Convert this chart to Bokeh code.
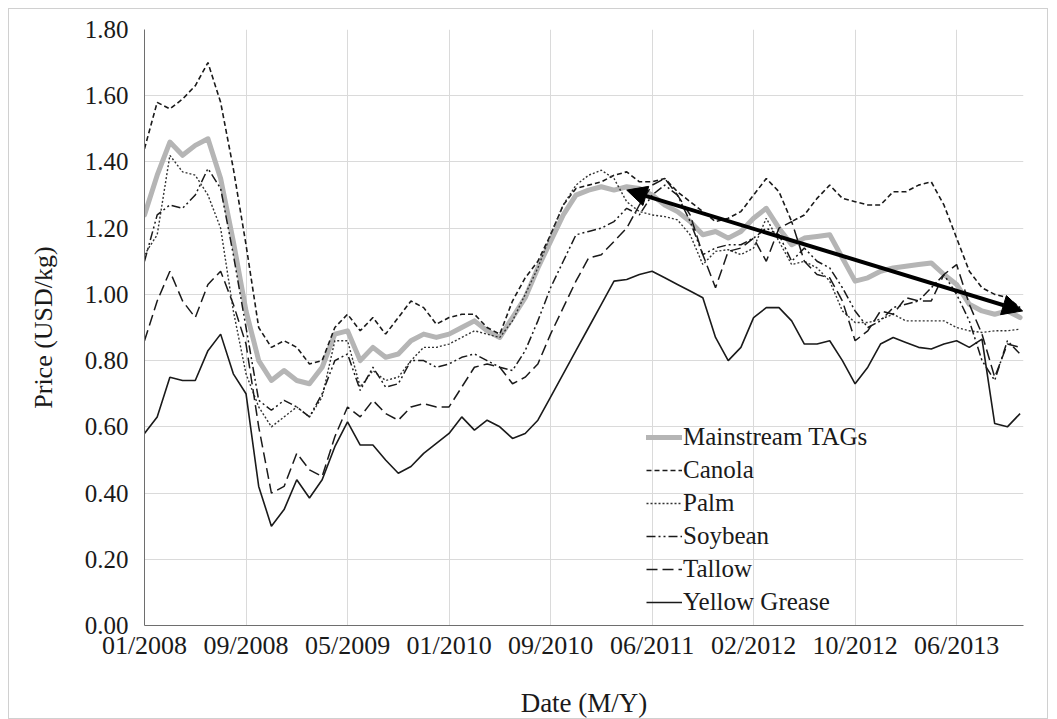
from bokeh.plotting import figure
from bokeh.models import (FixedTicker, Legend, LegendItem, Arrow, NormalHead,
                          Range1d, NumeralTickFormatter)
from bokeh.embed import file_html
from bokeh.resources import INLINE

# ---------------- data ----------------
tick_positions = [0, 8, 16, 24, 32, 40, 48, 56, 64]
tick_labels = ["01/2008", "09/2008", "05/2009", "01/2010", "09/2010",
               "06/2011", "02/2012", "10/2012", "06/2013"]
y_ticks = [0.0, 0.2, 0.4, 0.6, 0.8, 1.0, 1.2, 1.4, 1.6, 1.8]

month_index = list(range(70))

mainstream_tags = [1.24, 1.36, 1.46, 1.42, 1.45, 1.47, 1.35, 1.16, 0.95, 0.80,
                   0.74, 0.77, 0.74, 0.73, 0.78, 0.88, 0.89, 0.80, 0.84, 0.81,
                   0.82, 0.86, 0.88, 0.87, 0.88, 0.90, 0.92, 0.89, 0.87, 0.93,
                   0.99, 1.08, 1.16, 1.24, 1.30, 1.315, 1.325, 1.315, 1.325, 1.32,
                   1.30, 1.27, 1.25, 1.22, 1.18, 1.19, 1.17, 1.19, 1.23, 1.26,
                   1.20, 1.15, 1.17, 1.175, 1.18, 1.11, 1.04, 1.05, 1.07, 1.08,
                   1.085, 1.09, 1.095, 1.06, 1.03, 0.97, 0.95, 0.94, 0.95, 0.93]

canola = [1.44, 1.58, 1.56, 1.59, 1.63, 1.70, 1.58, 1.38, 1.15, 0.90,
          0.84, 0.86, 0.84, 0.79, 0.80, 0.90, 0.94, 0.89, 0.93, 0.88,
          0.93, 0.98, 0.96, 0.91, 0.93, 0.94, 0.94, 0.90, 0.88, 0.98,
          1.05, 1.10, 1.18, 1.27, 1.32, 1.33, 1.34, 1.36, 1.37, 1.34,
          1.34, 1.35, 1.31, 1.28, 1.25, 1.22, 1.23, 1.25, 1.30, 1.35,
          1.31, 1.22, 1.24, 1.29, 1.33, 1.29, 1.28, 1.27, 1.27, 1.31,
          1.31, 1.33, 1.34, 1.27, 1.17, 1.07, 1.02, 1.00, 0.99, 0.96]

palm = [1.12, 1.18, 1.42, 1.37, 1.36, 1.30, 1.20, 0.95, 0.76, 0.66,
        0.60, 0.63, 0.66, 0.63, 0.69, 0.86, 0.86, 0.72, 0.77, 0.74,
        0.75, 0.80, 0.84, 0.84, 0.85, 0.87, 0.89, 0.88, 0.87, 0.92,
        1.00, 1.08, 1.18, 1.27, 1.33, 1.36, 1.375, 1.35, 1.28, 1.25,
        1.24, 1.235, 1.225, 1.18, 1.09, 1.13, 1.135, 1.12, 1.14, 1.23,
        1.16, 1.09, 1.10, 1.08, 1.04, 0.95, 0.915, 0.915, 0.925, 0.94,
        0.92, 0.92, 0.92, 0.92, 0.90, 0.89, 0.885, 0.89, 0.89, 0.895]

soybean = [1.10, 1.24, 1.27, 1.26, 1.30, 1.38, 1.32, 1.12, 0.90, 0.68,
           0.65, 0.68, 0.66, 0.63, 0.70, 0.80, 0.82, 0.71, 0.78, 0.72,
           0.73, 0.80, 0.80, 0.78, 0.79, 0.81, 0.82, 0.80, 0.78, 0.77,
           0.83, 0.92, 1.02, 1.10, 1.18, 1.19, 1.20, 1.22, 1.26, 1.24,
           1.30, 1.33, 1.30, 1.22, 1.12, 1.14, 1.15, 1.15, 1.17, 1.20,
           1.18, 1.10, 1.14, 1.10, 1.08, 1.02, 0.95, 0.90, 0.92, 0.96,
           0.97, 0.98, 1.02, 1.06, 1.00, 0.92, 0.80, 0.74, 0.86, 0.82]

tallow = [0.86, 0.98, 1.07, 0.98, 0.93, 1.03, 1.07, 0.97, 0.85, 0.60,
          0.40, 0.42, 0.52, 0.47, 0.45, 0.57, 0.66, 0.63, 0.68, 0.64,
          0.62, 0.66, 0.67, 0.66, 0.66, 0.72, 0.78, 0.79, 0.78, 0.73,
          0.75, 0.79, 0.88, 0.96, 1.04, 1.11, 1.12, 1.16, 1.20, 1.27,
          1.33, 1.35, 1.30, 1.24, 1.12, 1.02, 1.13, 1.14, 1.17, 1.10,
          1.20, 1.22, 1.10, 1.06, 1.05, 0.98, 0.86, 0.89, 0.95, 0.94,
          0.99, 0.98, 0.98, 1.06, 1.09, 0.97, 0.88, 0.75, 0.85, 0.84]

yellow_grease = [0.58, 0.63, 0.75, 0.74, 0.74, 0.83, 0.88, 0.76, 0.70, 0.42,
                 0.30, 0.35, 0.44, 0.385, 0.44, 0.54, 0.615, 0.545, 0.545, 0.50,
                 0.46, 0.48, 0.52, 0.55, 0.58, 0.63, 0.59, 0.62, 0.60, 0.565,
                 0.58, 0.62, 0.69, 0.76, 0.83, 0.90, 0.97, 1.04, 1.045, 1.06,
                 1.07, 1.05, 1.03, 1.01, 0.99, 0.87, 0.80, 0.84, 0.93, 0.96,
                 0.96, 0.92, 0.85, 0.85, 0.86, 0.80, 0.73, 0.78, 0.85, 0.87,
                 0.855, 0.84, 0.835, 0.85, 0.86, 0.84, 0.865, 0.61, 0.60, 0.64]

arrow_x = [38.0, 69.2]
arrow_y = [1.315, 0.95]

# ---------------- figure ----------------
FONT = "Liberation Serif"

p = figure(width=1040, height=711,
           x_range=Range1d(0, 69.27), y_range=Range1d(0, 1.8),
           output_backend="svg", toolbar_location=None,
           min_border_left=135, min_border_right=26,
           min_border_top=20, min_border_bottom=91)
p.margin = (8, 8, 0, 8)
p.outline_line_color = None
p.background_fill_color = "white"
p.border_fill_color = "white"
p.styles = {"border": "1px solid #d0d0d0"}

# axes
p.xaxis.ticker = FixedTicker(ticks=tick_positions)
p.xaxis.major_label_overrides = {t: l for t, l in zip(tick_positions, tick_labels)}
p.yaxis.ticker = FixedTicker(ticks=y_ticks)
p.yaxis.formatter = NumeralTickFormatter(format="0.00")

for ax in (p.xaxis, p.yaxis):
    ax.major_tick_line_color = None
    ax.minor_tick_line_color = None
    ax.major_tick_out = 0
    ax.major_tick_in = 0
    ax.axis_line_color = "#6e6e6e"
    ax.axis_line_width = 1
    ax.major_label_text_font = FONT
    ax.major_label_text_color = "#1a1a1a"
    ax.axis_label_text_font = FONT
    ax.axis_label_text_font_style = "normal"
    ax.axis_label_text_color = "#1a1a1a"

p.xaxis.major_label_text_font_size = "26px"
p.yaxis.major_label_text_font_size = "25px"
p.xaxis.axis_label_text_font_size = "27px"
p.yaxis.axis_label_text_font_size = "26px"

p.xaxis.axis_label = "Date (M/Y)"
p.yaxis.axis_label = "Price (USD/kg)"
p.xaxis.major_label_standoff = 5
p.xaxis.axis_label_standoff = 25
p.yaxis.major_label_standoff = 16
p.yaxis.axis_label_standoff = 24

p.xgrid.ticker = FixedTicker(ticks=tick_positions)
p.ygrid.ticker = FixedTicker(ticks=y_ticks)
p.grid.grid_line_color = "#dadada"
p.grid.grid_line_width = 1

# lines
r_tag = p.line(month_index, mainstream_tags, line_color="#b5b5b5", line_width=5,
               line_join="round", line_cap="round")
r_can = p.line(month_index, canola, line_color="#1a1a1a", line_width=1.6,
               line_dash="5 3")
r_palm = p.line(month_index, palm, line_color="#333333", line_width=1.4,
                line_dash="2 2")
r_soy = p.line(month_index, soybean, line_color="#1a1a1a", line_width=1.5,
               line_dash="9 3 2 3 2 3")
r_tal = p.line(month_index, tallow, line_color="#1a1a1a", line_width=1.5,
               line_dash="11 5")
r_yg = p.line(month_index, yellow_grease, line_color="#1a1a1a", line_width=1.6)

# double-headed arrow
p.add_layout(Arrow(start=NormalHead(size=20, fill_color="black", line_color="black"),
                   end=NormalHead(size=20, fill_color="black", line_color="black"),
                   x_start=arrow_x[0], y_start=arrow_y[0],
                   x_end=arrow_x[1], y_end=arrow_y[1],
                   line_color="black", line_width=4))

legend = Legend(items=[
    LegendItem(label="Mainstream TAGs", renderers=[r_tag]),
    LegendItem(label="Canola", renderers=[r_can]),
    LegendItem(label="Palm", renderers=[r_palm]),
    LegendItem(label="Soybean", renderers=[r_soy]),
    LegendItem(label="Tallow", renderers=[r_tal]),
    LegendItem(label="Yellow Grease", renderers=[r_yg]),
], location=(502, 9))
legend.label_text_font = FONT
legend.label_text_font_size = "25px"
legend.label_text_color = "#1a1a1a"
legend.label_height = 24
legend.glyph_height = 24
legend.glyph_width = 36
legend.label_standoff = 1
legend.spacing = 5
legend.padding = 0
legend.margin = 0
legend.border_line_color = None
legend.background_fill_alpha = 0
p.add_layout(legend)

open("out.html", "w").write(file_html(p, INLINE))
